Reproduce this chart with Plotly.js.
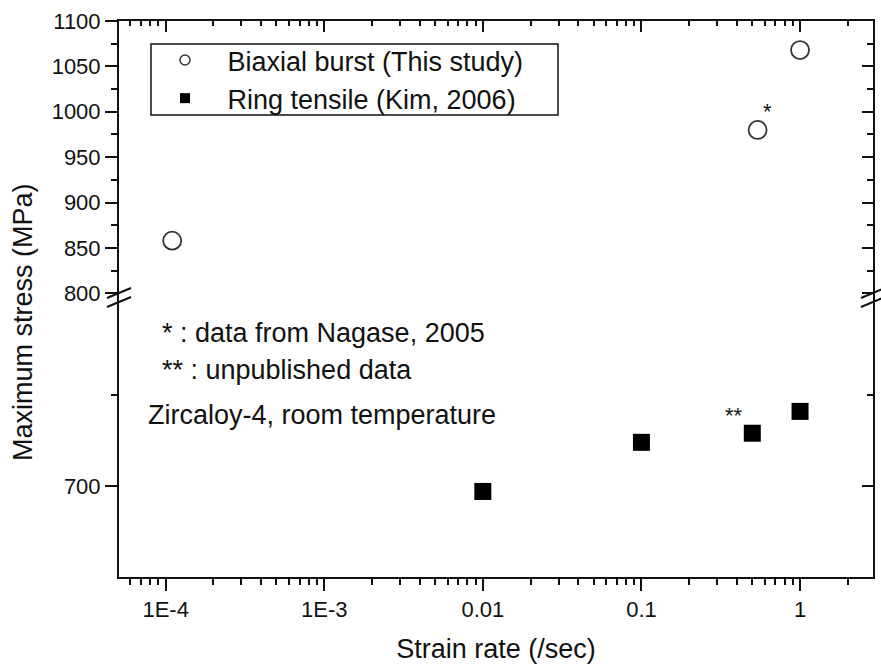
<!DOCTYPE html>
<html>
<head>
<meta charset="utf-8">
<script src="https://cdn.plot.ly/plotly-3.0.1.min.js"></script>
<style>
  html, body { margin: 0; padding: 0; background: #fff; }
  #chart { width: 881px; height: 664px; }
</style>
</head>
<body>
<div id="chart"></div>
<script>
// Maximum stress of Zircaloy-4 cladding vs strain rate
const biaxialRate = [1.1e-4, 0.54, 1.0];
const biaxialStress = [858, 980, 1068];
const ringRate = [0.01, 0.1, 0.5, 1.0];
const ringStress = [697, 724, 729, 741];

const xTickVals = [1e-4, 1e-3, 0.01, 0.1, 1];
const xTickText = ['1E-4', '1E-3', '0.01', '0.1', '1'];
const upperTickVals = [800, 850, 900, 950, 1000, 1050, 1100];
const upperMinorVals = [825, 875, 925, 975, 1025, 1075];
const lowerTickVals = [700];
const lowerMinorVals = [750];

const legendNames = ['Biaxial burst (This study)', 'Ring tensile (Kim, 2006)'];
const noteLines = ['* : data from Nagase, 2005', '** : unpublished data', 'Zircaloy-4, room temperature'];

// log-axis minor ticks at 2..9 of each decade
const xMinorVals = [];
for (let d = -5; d <= 0; d++) {
  for (let k = 2; k <= 9; k++) xMinorVals.push(k * Math.pow(10, d));
}

const FONT = 'Liberation Sans, Arial, Helvetica, sans-serif';
const xRange = [-4.294, 0.460];
const lowerRange = [650, 804.4];
const upperRange = [797, 1100];
const split = 0.5054;

const axisLine = { showline: true, linecolor: '#111', linewidth: 2, zeroline: false, showgrid: false };

const traces = [
  {
    x: biaxialRate, y: biaxialStress, xaxis: 'x', yaxis: 'y2',
    type: 'scatter', mode: 'markers', showlegend: false,
    marker: { symbol: 'circle-open', size: 18, color: '#333', line: { width: 1.8, color: '#333' } }
  },
  {
    x: ringRate, y: ringStress, xaxis: 'x', yaxis: 'y',
    type: 'scatter', mode: 'markers', showlegend: false,
    marker: { symbol: 'square', size: 17, color: '#000' }
  },
  // legend entries with small symbols
  {
    x: [null], y: [null], xaxis: 'x', yaxis: 'y2', type: 'scatter', mode: 'markers',
    name: '\u00a0\u00a0\u00a0' + legendNames[0], legendgroup: 'a',
    marker: { symbol: 'circle-open', size: 10, color: '#333', line: { width: 1.5, color: '#333' } }
  },
  {
    x: [null], y: [null], xaxis: 'x', yaxis: 'y', type: 'scatter', mode: 'markers',
    name: '\u00a0\u00a0\u00a0' + legendNames[1], legendgroup: 'b',
    marker: { symbol: 'square', size: 10, color: '#000' }
  },
  // frame axes (top and right)
  { x: [null], y: [null], xaxis: 'x2', yaxis: 'y2', showlegend: false, hoverinfo: 'skip' },
  { x: [null], y: [null], xaxis: 'x', yaxis: 'y3', showlegend: false, hoverinfo: 'skip' },
  { x: [null], y: [null], xaxis: 'x', yaxis: 'y4', showlegend: false, hoverinfo: 'skip' }
];

function px2px(px) { return (px - 119) / 754; }
function py2py(py) { return (577 - py) / 556; }

// axis-break marks on left and right
const shapes = [];
[119, 873].forEach(function (cx) {
  [[298, 288], [307, 297]].forEach(function (p) {
    shapes.push({
      type: 'line', xref: 'paper', yref: 'paper',
      x0: px2px(cx - 12), x1: px2px(cx + 12), y0: py2py(p[0]), y1: py2py(p[1]),
      line: { color: '#111', width: 2 }
    });
  });
});
// legend frame
shapes.push({
  type: 'rect', xref: 'paper', yref: 'paper',
  x0: px2px(151), x1: px2px(558), y0: py2py(115), y1: py2py(44),
  line: { color: '#111', width: 1.5 }, fillcolor: 'rgba(0,0,0,0)'
});

const annotations = [
  {
    text: 'Maximum stress (MPa)', textangle: -90, xref: 'paper', yref: 'paper',
    x: px2px(23), y: py2py(322), xanchor: 'center', yanchor: 'middle', showarrow: false,
    font: { size: 27 }
  },
  { text: noteLines[0], xref: 'paper', yref: 'paper', x: px2px(160), y: py2py(333), xanchor: 'left', yanchor: 'middle', showarrow: false, font: { size: 27 } },
  { text: noteLines[1], xref: 'paper', yref: 'paper', x: px2px(160), y: py2py(370), xanchor: 'left', yanchor: 'middle', showarrow: false, font: { size: 27 } },
  { text: noteLines[2], xref: 'paper', yref: 'paper', x: px2px(146), y: py2py(415), xanchor: 'left', yanchor: 'middle', showarrow: false, font: { size: 27 } },
  // asterisks beside the marked points
  { text: '*', xref: 'x', yref: 'y2', x: Math.log10(biaxialRate[1]), y: biaxialStress[1], xshift: 10, yshift: 18, showarrow: false, font: { size: 22 } },
  { text: '**', xref: 'x', yref: 'y', x: Math.log10(ringRate[2]), y: ringStress[2], xshift: -18, yshift: 18, showarrow: false, font: { size: 22 } }
];

const layout = {
  width: 881, height: 664,
  margin: { l: 119, r: 8, t: 21, b: 87 },
  paper_bgcolor: '#fff', plot_bgcolor: '#fff',
  font: { family: FONT, color: '#111' },
  showlegend: true,
  legend: {
    x: px2px(165), xanchor: 'left', y: py2py(36), yanchor: 'top',
    bgcolor: 'rgba(0,0,0,0)', borderwidth: 0, font: { size: 27 }, tracegroupgap: 0
  },
  xaxis: Object.assign({}, axisLine, {
    type: 'log', range: xRange, anchor: 'y', side: 'bottom',
    tickmode: 'array', tickvals: xTickVals, ticktext: xTickText,
    ticks: 'outside', ticklen: 12, tickwidth: 2, tickcolor: '#111',
    tickfont: { size: 22 },
    minor: { tickmode: 'array', tickvals: xMinorVals, ticks: 'outside', ticklen: 6, tickwidth: 2, tickcolor: '#111' },
    title: { text: 'Strain rate (/sec)', font: { size: 27 }, standoff: 19 }
  }),
  xaxis2: Object.assign({}, axisLine, {
    type: 'log', range: xRange, overlaying: 'x', anchor: 'y2', side: 'top',
    tickmode: 'array', tickvals: xTickVals, showticklabels: false,
    ticks: 'inside', ticklen: 11, tickwidth: 2, tickcolor: '#111',
    minor: { tickmode: 'array', tickvals: xMinorVals, ticks: 'inside', ticklen: 5, tickwidth: 2, tickcolor: '#111' }
  }),
  yaxis: Object.assign({}, axisLine, {
    range: lowerRange, domain: [0, split], anchor: 'x',
    tickmode: 'array', tickvals: lowerTickVals,
    ticks: 'outside', ticklen: 12, tickwidth: 2, tickcolor: '#111',
    tickfont: { size: 22 },
    minor: { tickmode: 'array', tickvals: lowerMinorVals, ticks: 'outside', ticklen: 6, tickwidth: 2, tickcolor: '#111' }
  }),
  yaxis2: Object.assign({}, axisLine, {
    range: upperRange, domain: [split, 1], anchor: 'x',
    tickmode: 'array', tickvals: upperTickVals,
    ticks: 'outside', ticklen: 12, tickwidth: 2, tickcolor: '#111',
    tickfont: { size: 22 },
    minor: { tickmode: 'array', tickvals: upperMinorVals, ticks: 'outside', ticklen: 6, tickwidth: 2, tickcolor: '#111' }
  }),
  yaxis3: Object.assign({}, axisLine, {
    range: lowerRange, overlaying: 'y', anchor: 'x', side: 'right',
    tickmode: 'array', tickvals: lowerTickVals, showticklabels: false,
    ticks: 'inside', ticklen: 11, tickwidth: 2, tickcolor: '#111',
    minor: { tickmode: 'array', tickvals: lowerMinorVals, ticks: 'inside', ticklen: 6, tickwidth: 2, tickcolor: '#111' }
  }),
  yaxis4: Object.assign({}, axisLine, {
    range: upperRange, overlaying: 'y2', anchor: 'x', side: 'right',
    tickmode: 'array', tickvals: upperTickVals, showticklabels: false,
    ticks: 'inside', ticklen: 11, tickwidth: 2, tickcolor: '#111',
    minor: { tickmode: 'array', tickvals: upperMinorVals, ticks: 'inside', ticklen: 6, tickwidth: 2, tickcolor: '#111' }
  }),
  shapes: shapes,
  annotations: annotations
};

Plotly.newPlot('chart', traces, layout, { staticPlot: true, displayModeBar: false });
</script>
</body>
</html>
